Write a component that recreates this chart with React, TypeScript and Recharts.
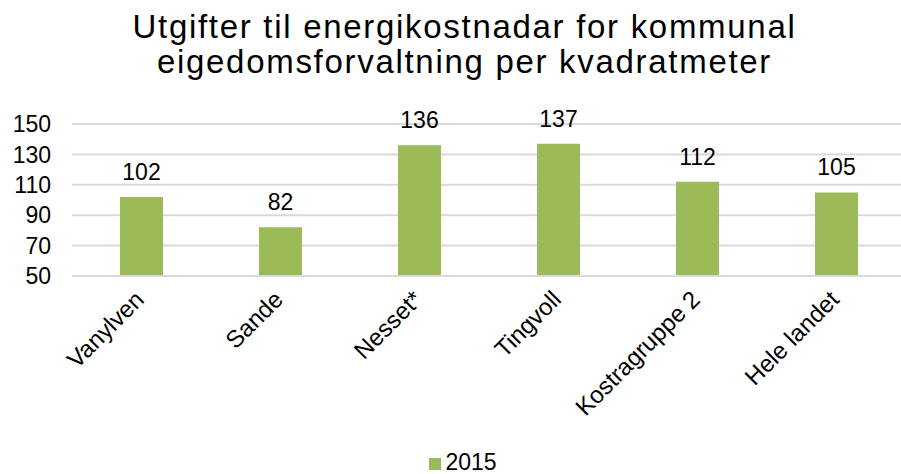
import React from "react";
import { Bar, BarChart, CartesianGrid, LabelList, Legend, XAxis, YAxis } from "recharts";

const categories = ["Vanylven", "Sande", "Nesset*", "Tingvoll", "Kostragruppe 2", "Hele landet"];
const values2015 = [102, 82, 136, 137, 112, 105];
const yTicks = [50, 70, 90, 110, 130, 150];

const data = categories.map((name, i) => ({ name, y2015: values2015[i] }));

const font = "'Liberation Sans', Arial, sans-serif";

const XTick = (props: any) => {
  const { x, y, payload } = props;
  return (
    <g transform={`translate(${x + 4},${y + 25})`}>
      <text
        textAnchor="end"
        transform="rotate(-45)"
        fontSize={24}
        fontFamily={font}
        fill="#000"
      >
        {payload.value}
      </text>
    </g>
  );
};

export default function App() {
  return (
    <div
      style={{
        position: "absolute",
        left: 0,
        top: 0,
        width: 901,
        height: 474,
        overflow: "hidden",
        background: "#fff",
        fontFamily: font,
      }}
    >
      <div
        style={{
          position: "absolute",
          top: 9,
          left: 14,
          width: 901,
          textAlign: "center",
          fontSize: 33,
          letterSpacing: 1.7,
          lineHeight: "35px",
          color: "#000",
        }}
      >
        Utgifter til energikostnadar for kommunal
        <br />
        eigedomsforvaltning per kvadratmeter
      </div>
      <BarChart
        width={906}
        height={474}
        data={data}
        margin={{ top: 124, right: 0, bottom: 78, left: 0 }}
      >
        <CartesianGrid vertical={false} stroke="#d9d9d9" strokeWidth={2} />
        <XAxis
          dataKey="name"
          interval={0}
          tickLine={false}
          tickSize={0}
          tickMargin={0}
          axisLine={{ stroke: "#d9d9d9", strokeWidth: 2 }}
          tick={<XTick />}
          height={120}
        />
        <YAxis
          domain={[50, 150]}
          ticks={yTicks}
          interval={0}
          width={72}
          axisLine={false}
          tickLine={false}
          tickSize={0}
          tickMargin={21}
          tick={{ fontSize: 23, fill: "#000", fontFamily: font }}
        />
        <Legend
          verticalAlign="middle"
          align="center"
          iconType="square"
          iconSize={12}
          wrapperStyle={{ top: 450, left: 33, width: 870, fontSize: 23, fontFamily: font, lineHeight: "24px" }}
          formatter={() => <span style={{ color: "#000" }}>2015</span>}
        />
        <Bar dataKey="y2015" name="2015" fill="#9bbb59" barSize={43} isAnimationActive={false}>
          <LabelList
            dataKey="y2015"
            position="top"
            offset={17}
            fontSize={23}
            fill="#000"
            fontFamily={font}
          />
        </Bar>
      </BarChart>
    </div>
  );
}
